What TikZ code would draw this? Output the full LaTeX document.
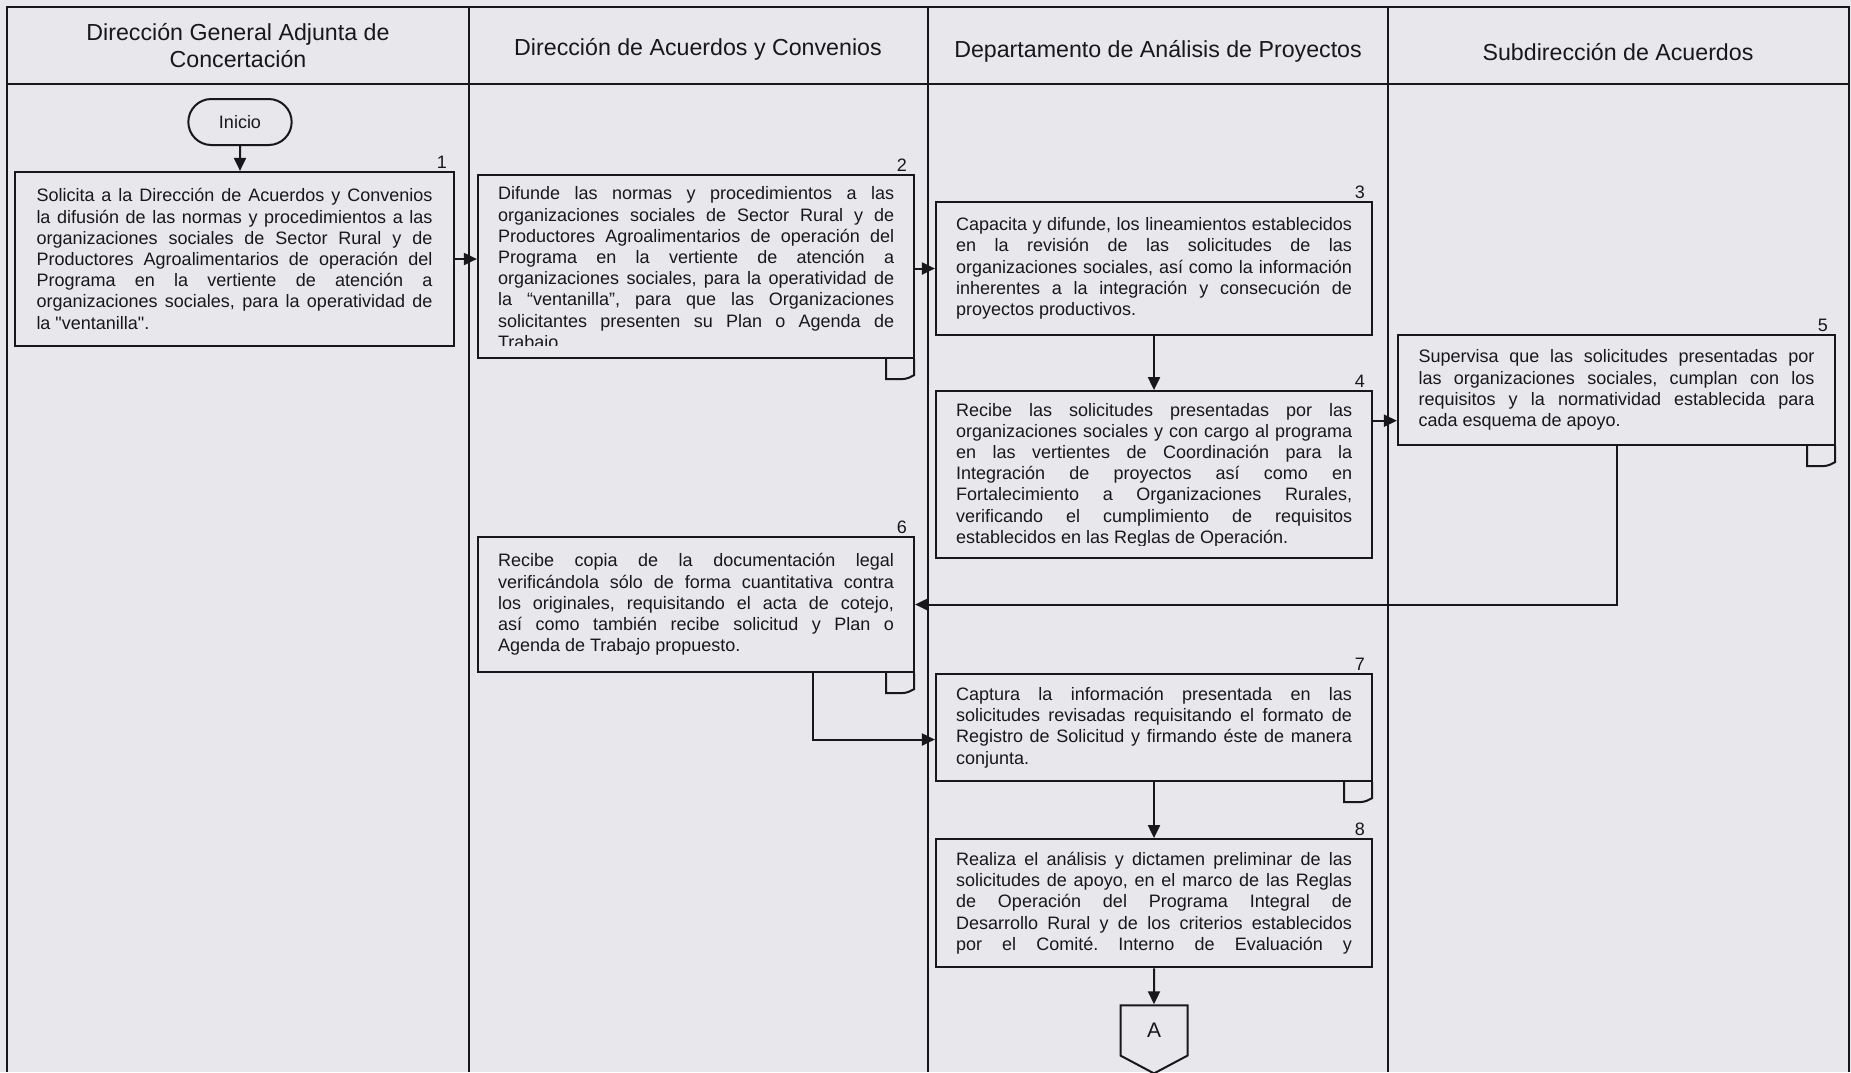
\documentclass[tikz,border=0pt]{standalone}
\usepackage{fontspec}
\setmainfont{Liberation Sans}
\newfontfamily\plainq{Liberation Sans}[Ligatures=TeXOff]
\usetikzlibrary{shapes,arrows.meta,positioning}
\definecolor{paper}{RGB}{232,231,236}
\definecolor{ink}{RGB}{24,24,28}
\tolerance=10000
\hbadness=10000
\hyphenpenalty=10000
\frenchspacing

\begin{document}
\begin{tikzpicture}[x=1pt, y=-1pt, node distance=54pt, auto]
  \tikzstyle{lane} = [draw=ink, line width=2pt]
  \tikzstyle{head} = [text=ink, align=center, inner sep=0pt, font=\fontsize{23.2}{27}\selectfont]
  \tikzstyle{act} = [rectangle, draw=ink, line width=2.2pt, fill=paper, text=ink, text width=396pt, inner xsep=20pt, inner ysep=0pt, align=justify, font=\fontsize{18}{21.2}\selectfont]
  \tikzstyle{cut} = [text=ink, text width=396pt, inner sep=0pt, align=justify, anchor=base west, font=\fontsize{18}{21.2}\selectfont]
  \tikzstyle{num} = [text=ink, inner sep=0pt, anchor=south east, font=\fontsize{18}{21.2}\selectfont]
  \tikzstyle{line} = [draw=ink, line width=2pt, -{Triangle[length=13pt,width=12pt]}]
  \tikzstyle{tab} = [draw=ink, line width=2pt]
  \useasboundingbox (0,0) rectangle (1851,1072);
  \fill [paper] (0,0) rectangle (1851,1072);
  % Lanes
  \draw [lane] (7,1072) -- (7,7) -- (1849,7) -- (1849,1072);
  \draw [lane] (7,84) -- (1849,84);
  \foreach \x in {469,928,1388} \draw [lane] (\x,7) -- (\x,1072);
  \node [head] (h1) at (238,46) {Dirección General Adjunta de\\Concertación};
  \node [head] (h2) at (698,49) {Dirección de Acuerdos y Convenios};
  \node [head] (h3) at (1158,51) {Departamento de Análisis de Proyectos};
  \node [head] (h4) at (1618,52) {Subdirección de Acuerdos};
  % Place nodes
  \node [rounded rectangle, draw=ink, line width=2pt, fill=paper, text=ink, minimum width=110pt, minimum height=46pt, font=\fontsize{18}{21.2}\selectfont] (inicio) at (240,122) {Inicio};
  \node [act, minimum width=439pt, minimum height=174pt] (b1) at (234.5,259) {Solicita a la Dirección de Acuerdos y Convenios \linebreak
    la difusión de las normas y procedimientos a las \linebreak
    organizaciones sociales de Sector Rural y de \linebreak
    Productores Agroalimentarios de operación del \linebreak
    Programa en la vertiente de atención a \linebreak
    organizaciones sociales, para la operatividad de \linebreak
    la {\plainq"}ventanilla{\plainq"}.};
  \node [act, minimum height=183pt] (b2) at (696,266.5) {};
  \begin{scope}
    \clip ([yshift=14pt]b2.south west) rectangle (b2.north east);
    \node [cut] (t2) at ([xshift=21pt,yshift=-26pt]b2.north west) {Difunde las normas y procedimientos a las \linebreak
      organizaciones sociales de Sector Rural y de \linebreak
      Productores Agroalimentarios de operación del \linebreak
      Programa en la vertiente de atención a \linebreak
      organizaciones sociales, para la operatividad de \linebreak
      la “ventanilla”, para que las Organizaciones \linebreak
      solicitantes presenten su Plan o Agenda de \linebreak
      Trabajo};
  \end{scope}
  \node [act, minimum height=133pt] (b3) at (1154,268.5) {Capacita y difunde, los lineamientos establecidos \linebreak
    en la revisión de las solicitudes de las \linebreak
    organizaciones sociales, así como la información \linebreak
    inherentes a la integración y consecución de \linebreak
    proyectos productivos.};
  \node [act, minimum height=167pt, below=of b3] (b4) {};
  \begin{scope}
    \clip ([yshift=14pt]b4.south west) rectangle (b4.north east);
    \node [cut] (t4) at ([xshift=21pt,yshift=-26pt]b4.north west) {Recibe las solicitudes presentadas por las \linebreak
      organizaciones sociales y con cargo al programa \linebreak
      en las vertientes de Coordinación para la \linebreak
      Integración de proyectos así como en \linebreak
      Fortalecimiento a Organizaciones Rurales, \linebreak
      verificando el cumplimiento de requisitos \linebreak
      establecidos en las Reglas de Operación.};
  \end{scope}
  \node [act, minimum width=437pt, minimum height=110pt] (b5) at (1616.5,390) {Supervisa que las solicitudes presentadas por \linebreak
    las organizaciones sociales, cumplan con los \linebreak
    requisitos y la normatividad establecida para \linebreak
    cada esquema de apoyo.};
  \node [act, minimum height=135pt] (b6) at (696,604.5) {Recibe copia de la documentación legal \linebreak
    verificándola sólo de forma cuantitativa contra \linebreak
    los originales, requisitando el acta de cotejo, \linebreak
    así como también recibe solicitud y Plan o \linebreak
    Agenda de Trabajo propuesto.};
  \node [act, minimum height=107pt] (b7) at (1154,727.5) {Captura la información presentada en las \linebreak
    solicitudes revisadas requisitando el formato de \linebreak
    Registro de Solicitud y firmando éste de manera \linebreak
    conjunta.};
  \node [act, minimum height=128pt, below=56pt of b7] (b8) {Realiza el análisis y dictamen preliminar de las \linebreak
    solicitudes de apoyo, en el marco de las Reglas \linebreak
    de Operación del Programa Integral de \linebreak
    Desarrollo Rural y de los criterios establecidos \linebreak
    por el Comité. Interno de Evaluación y{\parfillskip=0pt\par}};
  \node [signal, signal to=south, signal pointer angle=124, draw=ink, line width=2pt, fill=paper, text=ink, minimum width=67pt, minimum height=54pt, inner sep=0pt, font=\fontsize{21}{24}\selectfont, below=36pt of b8] (conA) {A};
  % Step numbers
  \foreach \b/\n in {b1/1,b2/2,b3/3,b4/4,b5/5,b6/6,b7/7,b8/8}
    \node [num] (n\n) at ([xshift=-8pt,yshift=2pt]\b.north east) {\n};
  % Document tabs
  \foreach \b in {b2,b5,b6,b7}
    \draw [tab] ([xshift=-29pt]\b.south east) -- ++(0,20) -- ++(14,0) .. controls +(8,0) and +(-4,2) .. ++(14,-4) -- ([xshift=-1pt]\b.south east);

  \path [line] (inicio) -- (inicio |- b1.north);
  \path [line] (b1.east) -- (b1.east -| b2.west);
  \path [line] (b3.west -| b2.east) -- (b3.west);
  \path [line] (b3) -- (b4);
  \path [line] ([yshift=54pt]b4.east) -- ([yshift=54pt]b4.east -| b5.west);
  \path [line] (b5) |- (b6);
  \path [line] ([xshift=117pt]b6.south) |- ([yshift=-12pt]b7.west);
  \path [line] (b7) -- (b8);
  \path [line] (b8) -- (conA);
\end{tikzpicture}
\end{document}
